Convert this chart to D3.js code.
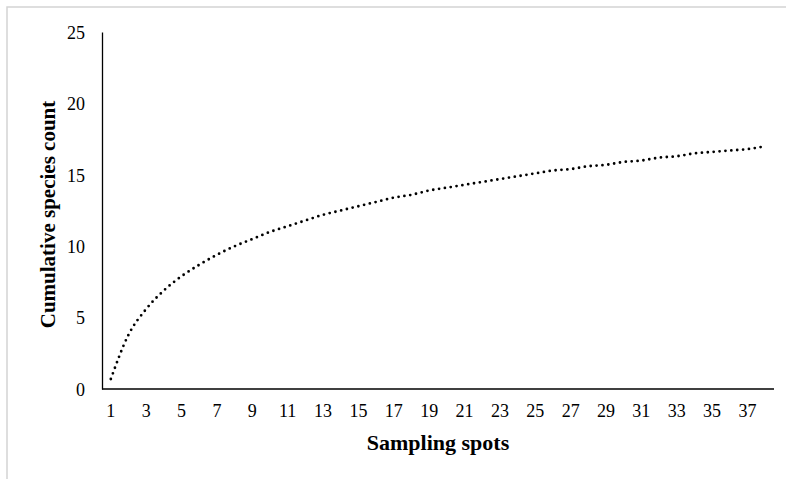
<!DOCTYPE html>
<html>
<head>
<meta charset="utf-8">
<script src="https://cdn.jsdelivr.net/npm/d3@7"></script>
<style>
  body { margin: 0; background: #fff; }
  text { font-family: "Liberation Serif", "Times New Roman", serif; fill: #000; }
</style>
</head>
<body>
<svg id="chart" width="786" height="479"></svg>
<script>
// sampling spots 1..38
var spots = [1, 2, 3, 4, 5, 6, 7, 8, 9, 10, 11, 12, 13, 14, 15, 16, 17, 18, 19,
  20, 21, 22, 23, 24, 25, 26, 27, 28, 29, 30, 31, 32, 33, 34, 35, 36, 37, 38];
// cumulative species count
var counts = [0.7, 3.8, 5.6, 6.9, 7.9, 8.7, 9.4, 10.0, 10.5, 11.0, 11.4, 11.8, 12.2,
  12.5, 12.8, 13.1, 13.4, 13.6, 13.9, 14.1, 14.3, 14.5, 14.7, 14.9, 15.1, 15.3,
  15.4, 15.6, 15.7, 15.9, 16.0, 16.2, 16.3, 16.5, 16.6, 16.7, 16.8, 17.0];
var yTicks = [0, 5, 10, 15, 20, 25];
var xTickLabels = spots.filter(function(d) { return d % 2 === 1; });

var svg = d3.select("#chart");

// light frame round the chart area
svg.append("rect")
  .attr("x", 7).attr("y", 7)
  .attr("width", 800).attr("height", 500)
  .attr("fill", "none")
  .attr("stroke", "#d4d4d4")
  .attr("stroke-width", 1.5);

var plotL = 102, plotR = 774, plotT = 32, plotB = 389;

var x = d3.scaleBand().domain(spots).range([plotL, plotR]);
var y = d3.scaleLinear().domain([0, 25]).range([plotB, plotT]);

// y axis
var yAxis = svg.append("g")
  .attr("transform", `translate(${plotL},0)`)
  .call(d3.axisLeft(y).tickValues(yTicks).tickSize(0).tickPadding(17));
yAxis.select(".domain").attr("stroke", "#000").attr("stroke-width", 1.3);
yAxis.selectAll("text")
  .style("font-size", "18px")
  .attr("dy", "0.35em");

// x axis
var xAxis = svg.append("g")
  .attr("transform", `translate(0,${plotB})`)
  .call(d3.axisBottom(x).tickValues(xTickLabels).tickSize(0).tickPadding(22));
xAxis.select(".domain").attr("stroke", "#000").attr("stroke-width", 1.3)
  .attr("d", `M${plotL},0H${plotR}`);
xAxis.selectAll("text")
  .style("font-size", "18px")
  .attr("dy", "0.35em");

// dotted curve
var line = d3.line()
  .x(function(d, i) { return x(spots[i]) + x.bandwidth() / 2; })
  .y(function(d) { return y(d); })
  .curve(d3.curveMonotoneX);

svg.append("path")
  .attr("d", line(counts))
  .attr("fill", "none")
  .attr("stroke", "#000")
  .attr("stroke-width", 2.8)
  .attr("stroke-linecap", "round")
  .attr("stroke-dasharray", "0,5.9");

// axis titles
svg.append("text")
  .attr("x", (plotL + plotR) / 2)
  .attr("y", 450)
  .attr("text-anchor", "middle")
  .style("font-size", "22px")
  .style("font-weight", "bold")
  .text("Sampling spots");

svg.append("text")
  .attr("transform", `translate(55,${(plotT + plotB) / 2 + 4}) rotate(-90)`)
  .attr("text-anchor", "middle")
  .style("font-size", "21px")
  .style("font-weight", "bold")
  .text("Cumulative species count");
</script>
</body>
</html>
